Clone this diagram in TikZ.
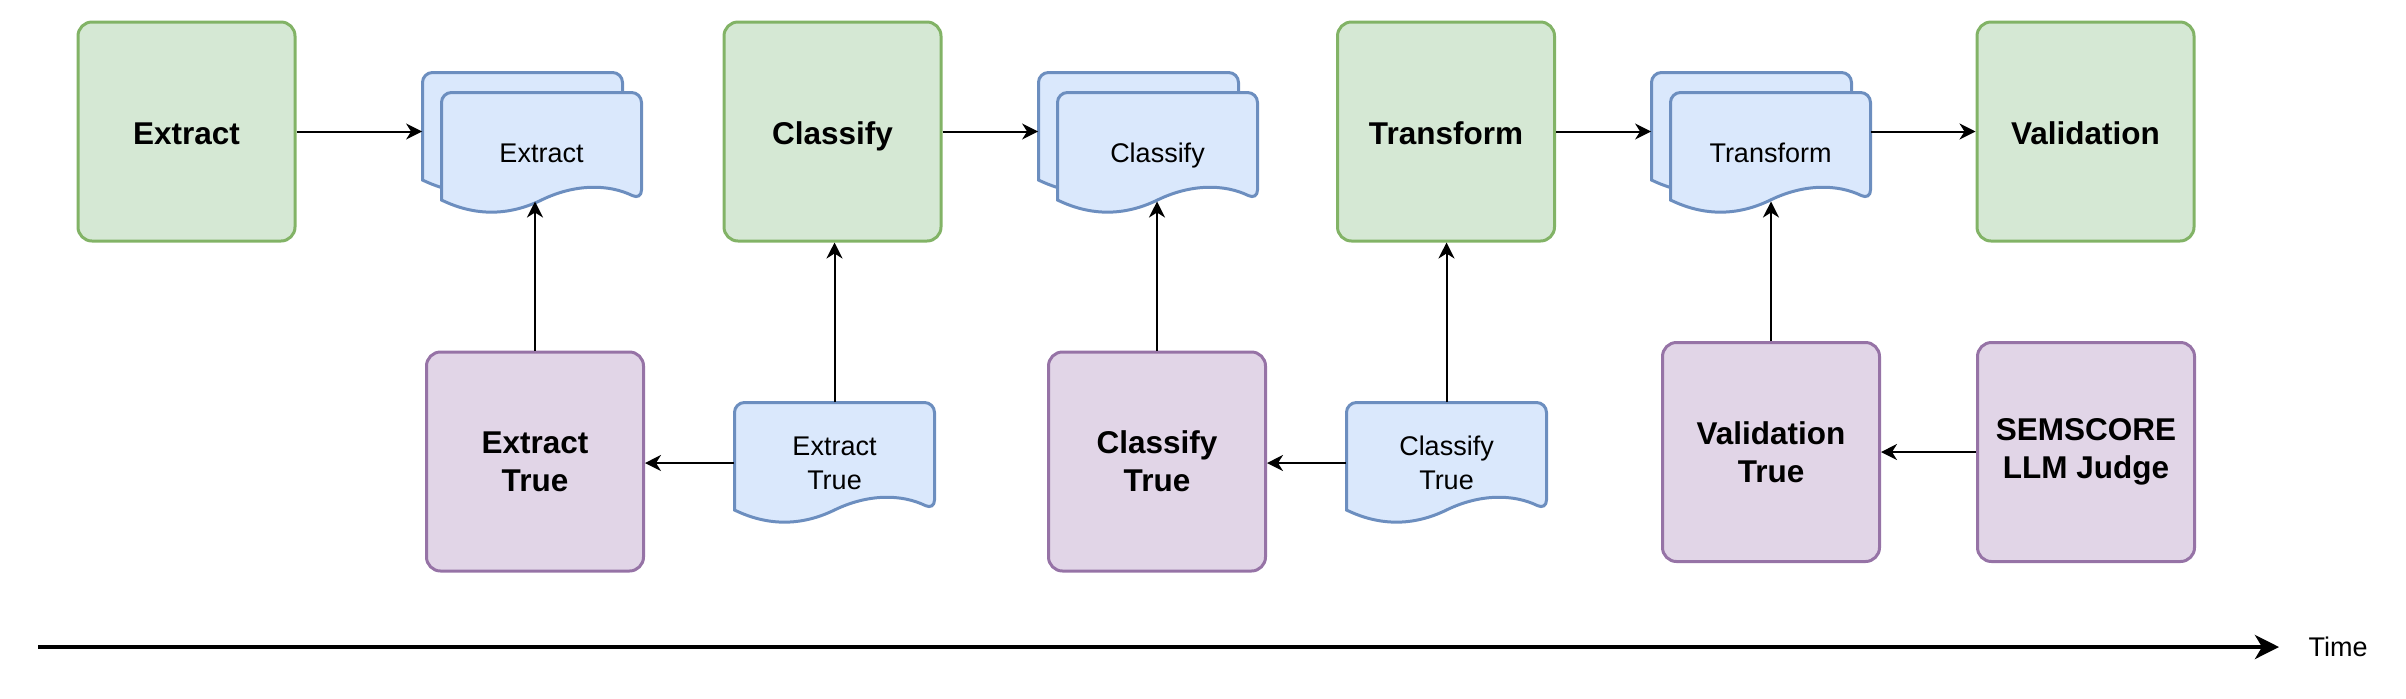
\documentclass[tikz,border=0pt]{standalone}
\usepackage{fontspec}
\setmainfont{Liberation Sans}
\usetikzlibrary{arrows.meta}

\definecolor{stepgreen}{HTML}{D5E8D4}
\definecolor{stepgreenline}{HTML}{82B366}
\definecolor{docblue}{HTML}{DAE8FC}
\definecolor{docblueline}{HTML}{6C8EBF}
\definecolor{truepurple}{HTML}{E1D5E7}
\definecolor{truepurpleline}{HTML}{9673A6}

\tikzset{
  boxbase/.style={line width=1.5pt, rounded corners=7pt,
    minimum width=108.5pt, minimum height=109.5pt, align=center,
    font=\fontsize{15.75}{19}\selectfont\bfseries},
  stepbox/.style={boxbase, draw=stepgreenline, fill=stepgreen, text height=13pt, text depth=0pt},
  truebox/.style={boxbase, draw=truepurpleline, fill=truepurple},
  docline/.style={draw=docblueline, fill=docblue, line width=1.5pt},
  doctext/.style={minimum width=100pt, minimum height=60.5pt, inner sep=0pt, align=center,
    font=\fontsize{13.5}{17}\selectfont},
  flow/.style={line width=1pt, -{Stealth[length=8pt,width=8pt,inset=2.5pt]}},
  timeline/.style={line width=2pt, -{Stealth[length=12pt,width=12pt,inset=3.5pt]}},
  % y runs upwards inside the pics, so the sheets go to negative y
  pics/wavedoc/.style={code={
    \path[docline] (0,-107.5) [rounded corners=5pt] -- (0,0) -- (200,0) -- (200,-107.5) [sharp corners]
      .. controls (166.7,-91.3) and (133.3,-91.3) .. (100,-107.5)
      .. controls (66.7,-123.7) and (33.3,-123.7) .. (0,-107.5) -- cycle;
    \node[doctext] (-txt) at (100,-60.5) {#1};
  }},
  pics/wavestack/.style={code={
    %back sheet
    \path[docline] (0,-107.5) [rounded corners=5pt] -- (0,0) -- (200,0) -- (200,-107.5) [sharp corners]
      .. controls (166.7,-91.3) and (133.3,-91.3) .. (100,-107.5)
      .. controls (66.7,-123.7) and (33.3,-123.7) .. (0,-107.5) -- cycle;
    \node[doctext] (-back) at (100,-60.5) {};
    %front sheet
    \begin{scope}[shift={(19,-20)}]
      \path[docline] (0,-107.5) [rounded corners=5pt] -- (0,0) -- (200,0) -- (200,-107.5) [sharp corners]
        .. controls (166.7,-91.3) and (133.3,-91.3) .. (100,-107.5)
        .. controls (66.7,-123.7) and (33.3,-123.7) .. (0,-107.5) -- cycle;
      \node[doctext, text height=9.5pt, text depth=0pt] (-front) at (100,-60.5) {#1};
      \coordinate (-wave) at (100,-109);
    \end{scope}
  }}
}

\begin{document}
\begin{tikzpicture}[x=0.5pt,y=0.5pt,yscale=-1,xscale=1]
\useasboundingbox (0,0) rectangle (2406,698);

%Shape: Rectangle (steps)
\node[stepbox] (ext) at (186.5,131.5) {Extract};
\node[stepbox] (cls) at (832.5,131.5) {Classify};
\node[stepbox] (trf) at (1446,131.5) {Transform};
\node[stepbox] (val) at (2085.5,131.5) {Validation};

%Shape: Multi-Document
\pic (extS) at (422.5,72.5) {wavestack=Extract};
\pic (clsS) at (1038.5,72.5) {wavestack=Classify};
\pic (trfS) at (1651.5,72.5) {wavestack=Transform};

%Shape: Rectangle (ground truth)
\node[truebox] (extT) at (535,461.5) {Extract\\True};
\node[truebox] (clsT) at (1157,461.5) {Classify\\True};
\node[truebox] (valT) at (1771,452) {Validation\\True};
\node[truebox] (sem) at (2086,452) {SEMSCORE\\LLM Judge};

%Shape: Document
\pic (extD) at (734.5,402.5) {wavedoc={Extract\\True}};
\pic (clsD) at (1346.5,402.5) {wavedoc={Classify\\True}};

%Straight Lines
\draw[flow] (ext.east) -- (ext.east -| extS-back.west);
\draw[flow] (cls.east) -- (cls.east -| clsS-back.west);
\draw[flow] (trf.east) -- (trf.east -| trfS-back.west);
\draw[flow] (trfS-front.east |- val.west) -- (val.west);
%Straight Lines
\draw[flow] (extT.north) -- (extT.north |- extS-wave);
\draw[flow] (clsT.north) -- (clsT.north |- clsS-wave);
\draw[flow] (valT.north) -- (valT.north |- trfS-wave);
\draw[flow] (extD-txt.north) -- (extD-txt.north |- cls.south);
\draw[flow] (clsD-txt.north) -- (clsD-txt.north |- trf.south);
%Straight Lines
\draw[flow] (extD-txt.west) -- (extD-txt.west -| extT.east);
\draw[flow] (clsD-txt.west) -- (clsD-txt.west -| clsT.east);
\draw[flow] (sem.west) -- (valT.east);

% Time axis
\coordinate (t0) at (38,647);
\coordinate (t1) at (2279,647);
\draw[timeline] (t0) -- (t1);
% Text Node
\node[font=\fontsize{13.5}{17}\selectfont] (time) at (2338,647) {Time};

\end{tikzpicture}
\end{document}
